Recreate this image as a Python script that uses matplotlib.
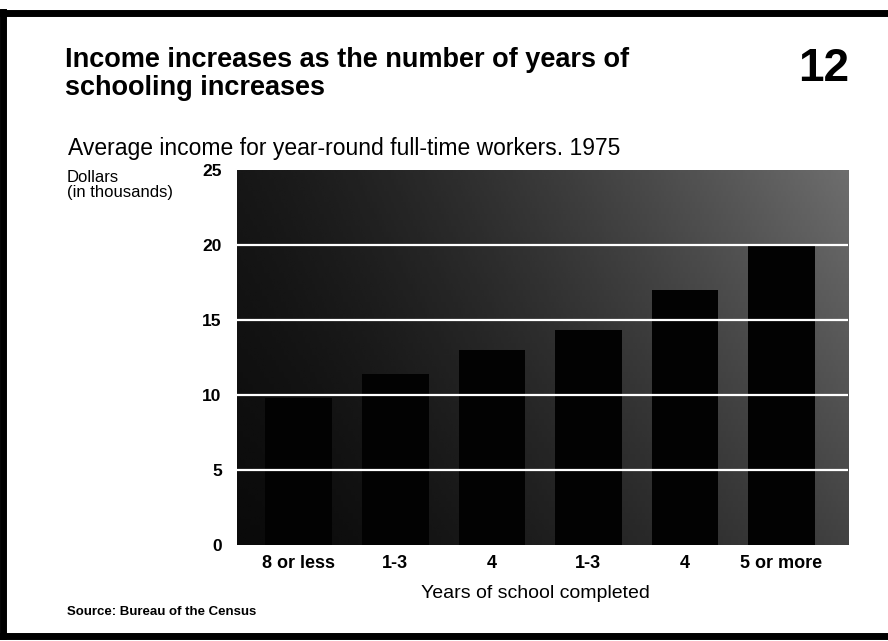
import numpy as np
import matplotlib
matplotlib.use("Agg")
import matplotlib.pyplot as plt

plt.rcParams['font.family'] = ['Liberation Sans', 'DejaVu Sans']

# 数据（从图上估读，单位：千美元）
categories = ["8 or less", "1-3", "4", "1-3", "4", "5 or more"]
income = [9.8, 11.4, 13.0, 14.3, 17.0, 20.0]
y_ticks = [0, 5, 10, 15, 20, 25]

fig = plt.figure(figsize=(8.88, 6.41), dpi=100)
ax = fig.add_axes([0.2669, 0.1498, 0.955 - 0.2669, 0.585])

x = np.arange(len(categories))
ax.set_xlim(-0.64, 5.69)
ax.set_ylim(0, 25)

# 背景：扫描网点效果，左下暗、右上亮
gx = np.linspace(0.0, 1.0, 256)[None, :]
gy = np.linspace(0.0, 1.0, 64)[:, None]
grad = 0.04 + 0.22 * gx ** 1.5 + 0.12 * gy * gx + 0.05 * gy
ax.imshow(grad, cmap="gray", vmin=0, vmax=1, aspect="auto",
          extent=[-0.64, 5.69, 0, 25], origin="lower", zorder=0)

ax.bar(x, income, width=0.69, color="#020202", zorder=2)

for t in y_ticks[1:-1]:
    ax.axhline(t, color="white", lw=1.6, zorder=3)

ax.set_yticks(y_ticks)
ax.set_yticklabels([str(t) for t in y_ticks], fontsize=12.5, fontweight="bold")
ax.set_xticks(x)
ax.set_xticklabels(categories, fontsize=13, fontweight="bold")
ax.tick_params(axis="y", length=0, pad=11)
ax.tick_params(axis="x", length=0, pad=7)
for s in ax.spines.values():
    s.set_visible(False)

# 文字
fig.text(65 / 888, 1 - 47 / 641,
         "Income increases as the number of years of\nschooling increases",
         fontsize=19.5, fontweight="bold", va="top", ha="left", linespacing=1.1)
fig.text(849 / 888, 1 - 47 / 641, "12", fontsize=33, fontweight="bold",
         va="top", ha="right")
fig.text(68 / 888, 1 - 149 / 641,
         "Average income for year-round full-time workers. 1975",
         fontsize=16.5, va="center", ha="left")
fig.text(67 / 888, 1 - 170 / 641, "Dollars\n(in thousands)",
         fontsize=12, va="top", ha="left", linespacing=1.0)
fig.text(535 / 888, 1 - 594 / 641, "Years of school completed",
         fontsize=14, va="center", ha="center")
fig.text(67 / 888, 1 - 612 / 641, "Source: Bureau of the Census",
         fontsize=9.5, fontweight="bold", va="center", ha="left")

# 外框
fig.add_artist(plt.Line2D([0, 1], [1 - 13 / 641, 1 - 13 / 641],
                          transform=fig.transFigure, color="black", lw=5))
fig.add_artist(plt.Line2D([3 / 888, 3 / 888], [1 - 12 / 641, 1 - 636 / 641],
                          transform=fig.transFigure, color="black", lw=5))
fig.add_artist(plt.Line2D([0, 1], [1 - 636 / 641, 1 - 636 / 641],
                          transform=fig.transFigure, color="black", lw=5))

fig.savefig("out.png", dpi=100)
